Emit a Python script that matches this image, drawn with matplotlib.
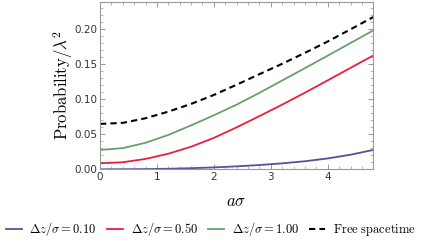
import matplotlib
matplotlib.use("Agg")
import matplotlib.pyplot as plt
from matplotlib.ticker import MultipleLocator
import numpy as np

plt.rcParams['mathtext.fontset'] = 'cm'

a_sigma = [0.0, 0.4, 0.8, 1.2, 1.6, 2.0, 2.4, 2.8, 3.2, 3.6, 4.0, 4.4, 4.8]
p_dz010 = [0.0, 0.0001, 0.0003, 0.0008, 0.0016, 0.0027, 0.0042, 0.0061, 0.0085, 0.0115, 0.0155, 0.0208, 0.0276]
p_dz050 = [0.0086, 0.0100, 0.0148, 0.0222, 0.0322, 0.0448, 0.0598, 0.0758, 0.0922, 0.1092, 0.1268, 0.1446, 0.1622]
p_dz100 = [0.0276, 0.0302, 0.0378, 0.0490, 0.0626, 0.0770, 0.0922, 0.1090, 0.1266, 0.1442, 0.1620, 0.1800, 0.1980]
p_free = [0.0647, 0.0662, 0.0728, 0.0822, 0.0932, 0.1060, 0.1206, 0.1356, 0.1504, 0.1660, 0.1822, 0.1995, 0.2170]

labels = [r'$\Delta z/\sigma = 0.10$', r'$\Delta z/\sigma = 0.50$',
          r'$\Delta z/\sigma = 1.00$', r'$\mathrm{Free\ spacetime}$']
colors = ['#55519a', '#e8203c', '#6a9f6a', '#000000']

fig = plt.figure(figsize=(4.24, 2.48), dpi=100)
ax = fig.add_axes([0.2358, 0.3173, 0.6446, 0.6747])

ax.plot(a_sigma, p_dz010, color=colors[0], lw=1.3, label=labels[0])
ax.plot(a_sigma, p_dz050, color=colors[1], lw=1.3, label=labels[1])
ax.plot(a_sigma, p_dz100, color=colors[2], lw=1.3, label=labels[2])
ax.plot(a_sigma, p_free, color=colors[3], lw=1.5, ls=(0, (3, 2)), label=labels[3])

ax.set_xlim(0, 4.8)
ax.set_ylim(0, 0.2385)
ax.xaxis.set_major_locator(MultipleLocator(1))
ax.xaxis.set_minor_locator(MultipleLocator(0.2))
ax.yaxis.set_major_locator(MultipleLocator(0.05))
ax.yaxis.set_minor_locator(MultipleLocator(0.01))
ax.yaxis.set_major_formatter(matplotlib.ticker.FormatStrFormatter('%.2f'))
ax.tick_params(which='both', direction='in', top=True, right=True, color='#999999',
               labelsize=7.5, labelcolor='#333333', pad=2)
ax.tick_params(which='major', length=3.5, width=0.7)
ax.tick_params(which='minor', length=2, width=0.5)
for s in ax.spines.values():
    s.set_color('#999999')
    s.set_linewidth(0.8)

ax.set_xlabel(r'$a\sigma$', fontsize=12, labelpad=7)
ax.set_ylabel(r'$\mathrm{Probability}/\lambda^2$', fontsize=12, labelpad=-1)

handles, labs = ax.get_legend_handles_labels()
fig.legend(handles, labs, loc='center', bbox_to_anchor=(0.497, 0.076), ncol=4,
           frameon=False, fontsize=9, handlelength=1.3, handletextpad=0.6,
           columnspacing=0.8)

fig.savefig('out.png', dpi=100)
